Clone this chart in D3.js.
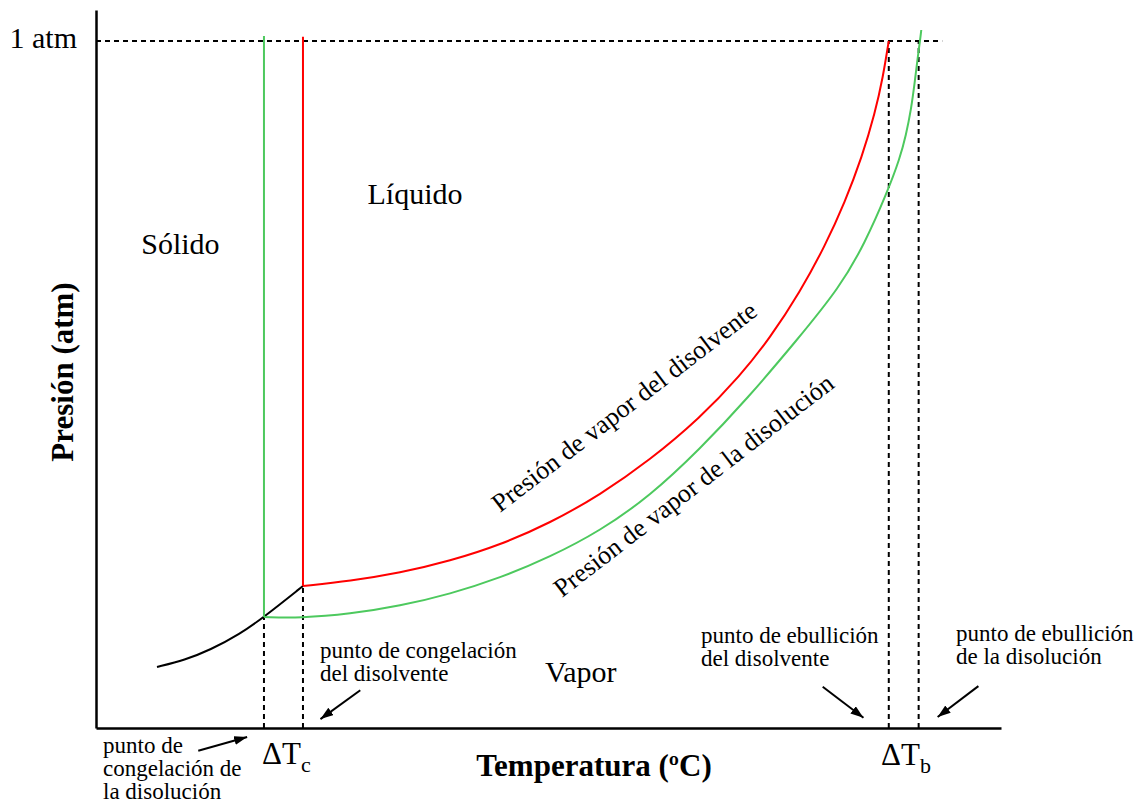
<!DOCTYPE html>
<html>
<head>
<meta charset="utf-8">
<script src="https://cdn.jsdelivr.net/npm/d3@7"></script>
<style>
  body { margin: 0; background: #fff; }
  svg { display: block; font-family: "Liberation Serif", "Times New Roman", serif; }
</style>
</head>
<body>
<script>
// curvas del diagrama de fases (temperatura relativa 0-100, presion en atm)
var sublimacion = [[6.74,0.0888],[9.83,0.0990],[12.60,0.1135],[15.91,0.1368],[18.56,0.1615],[22.87,0.2067]];
var vaporDisolvente = [[22.87,0.2067],[28.07,0.2139],[33.59,0.2256],[39.12,0.2431],[44.64,0.2663],[50.17,0.2984],
                       [55.69,0.3391],[61.22,0.3901],[66.74,0.4512],[71.16,0.5123],[74.48,0.5676],[77.79,0.6346],
                       [80.55,0.7015],[82.76,0.7656],[84.64,0.8311],[86.08,0.8951],[86.96,0.9475],[87.6,1.0]];
var vaporDisolucion = [[18.56,0.1616],[22.54,0.1601],[28.07,0.1659],[33.59,0.1776],[39.12,0.1950],[44.64,0.2183],
                       [50.17,0.2489],[55.69,0.2867],[61.22,0.3377],[66.74,0.4061],[71.93,0.4788],[77.46,0.5647],
                       [82.21,0.6418],[84.97,0.7059],[87.40,0.7787],[88.84,0.8296],[89.50,0.8631],[90.06,0.8994],
                       [90.50,0.9431],[90.83,0.9795],[91.05,1.0],[91.19,1.0159]];
var fusionDisolvente = [[22.87,0.2067],[22.87,1.006]];
var fusionDisolucion = [[18.56,0.1615],[18.56,1.007]];

// puntos de congelacion / ebullicion
var tCongDisolucion = 18.56, tCongDisolvente = 22.87;
var tEbDisolvente = 87.6, tEbDisolucion = 90.9;
var pCongDisolucion = 0.1615, pCongDisolvente = 0.2067;
var pAtm = 1;
var atmTicks = [1];
var atmLabel = "1 atm";

var width = 1140, height = 803;

var x = d3.scaleLinear().domain([0, 100]).range([96, 1001]);
var y = d3.scaleLinear().domain([0, 1.045]).range([728, 10]);

var svg = d3.select('body').append('svg').attr('width', width).attr('height', height);

var defs = svg.append('defs');
defs.append('marker')
    .attr('id', 'flecha')
    .attr('markerUnits', 'userSpaceOnUse')
    .attr('markerWidth', 14).attr('markerHeight', 10)
    .attr('refX', 13).attr('refY', 4.5)
    .attr('orient', 'auto')
  .append('path')
    .attr('d', 'M0,0 L13,4.5 L0,9 Z')
    .attr('fill', '#000');

var line = d3.line()
    .x(function(d){ return x(d[0]); })
    .y(function(d){ return y(d[1]); });
var curva = d3.line()
    .x(function(d){ return x(d[0]); })
    .y(function(d){ return y(d[1]); })
    .curve(d3.curveBasis);

// ejes
var ejeY = svg.append('g').attr('transform', 'translate(' + x(0) + ',0)')
    .call(d3.axisLeft(y).tickValues(atmTicks).tickSize(0).tickPadding(19).tickFormat(function(){ return atmLabel; }));
ejeY.select('.domain').attr('stroke', '#000').attr('stroke-width', 2.5);
ejeY.selectAll('text').attr('font-family', '"Liberation Serif", serif').attr('font-size', 30).attr('fill', '#000').attr('dy', '0.22em');

var ejeX = svg.append('g').attr('transform', 'translate(0,' + y(0) + ')')
    .call(d3.axisBottom(x).tickValues([]).tickSizeOuter(0));
ejeX.select('.domain').attr('stroke', '#000').attr('stroke-width', 2.5);

// lineas discontinuas
var discontinuas = [
    [[0, pAtm], [93.5, pAtm]],
    [[tCongDisolucion, 0], [tCongDisolucion, pCongDisolucion]],
    [[tCongDisolvente, 0], [tCongDisolvente, pCongDisolvente]],
    [[tEbDisolvente, 0], [tEbDisolvente, pAtm]],
    [[tEbDisolucion, 0], [tEbDisolucion, pAtm]]
];
svg.selectAll('path.dash')
    .data(discontinuas)
    .enter()
    .append('path')
    .attr('class', 'dash')
    .attr('d', line)
    .attr('fill', 'none')
    .attr('stroke', '#000')
    .attr('stroke-width', 2)
    .attr('stroke-dasharray', '5,4');

// curvas
svg.append('path').attr('d', curva(sublimacion)).attr('fill', 'none').attr('stroke', '#000').attr('stroke-width', 2);
svg.append('path').attr('d', line(fusionDisolucion)).attr('fill', 'none').attr('stroke', '#4dc95e').attr('stroke-width', 2);
svg.append('path').attr('d', curva(vaporDisolucion)).attr('fill', 'none').attr('stroke', '#4dc95e').attr('stroke-width', 2);
svg.append('path').attr('d', line(fusionDisolvente)).attr('fill', 'none').attr('stroke', '#ff0000').attr('stroke-width', 2);
svg.append('path').attr('d', curva(vaporDisolvente)).attr('fill', 'none').attr('stroke', '#ff0000').attr('stroke-width', 2);

// flechas
var flechas = [
    [[11.3, -0.033], [16.7, -0.013]],
    [[29.2, 0.055], [24.8, 0.013]],
    [[80.3, 0.060], [84.8, 0.015]],
    [[97.5, 0.061], [93.0, 0.016]]
];
svg.selectAll('path.flecha')
    .data(flechas)
    .enter()
    .append('path')
    .attr('class', 'flecha')
    .attr('d', line)
    .attr('stroke', '#000')
    .attr('stroke-width', 2)
    .attr('marker-end', 'url(#flecha)');

// regiones
var regiones = [["Sólido", 5.0, 0.69], ["Líquido", 30.0, 0.762], ["Vapor", 49.6, 0.067]];
svg.selectAll('text.region')
    .data(regiones)
    .enter()
    .append('text')
    .attr('class', 'region')
    .attr('x', function(d){ return x(d[1]); })
    .attr('y', function(d){ return y(d[2]); })
    .attr('font-size', 30)
    .text(function(d){ return d[0]; });

// etiquetas pequeñas
var notas = [
    [["punto de congelación", "del disolvente"], 320, 658],
    [["punto de ebullición", "del disolvente"], 701, 643],
    [["punto de ebullición", "de la disolución"], 956, 641],
    [["punto de", "congelación de", "la disolución"], 103, 753]
];
notas.forEach(function(n){
    var t = svg.append('text').attr('x', n[1]).attr('y', n[2]).attr('font-size', 23);
    n[0].forEach(function(s, i){
        t.append('tspan').attr('x', n[1]).attr('dy', i == 0 ? 0 : 23).text(s);
    });
});

// textos rotados de las curvas
svg.append('text')
    .attr('transform', 'translate(500,513) rotate(-37.5)')
    .attr('font-size', 26)
    .text('Presión de vapor del disolvente');
svg.append('text')
    .attr('transform', 'translate(562,598) rotate(-37.7)')
    .attr('font-size', 26)
    .text('Presión de vapor de la disolución');

// delta T
function deltaT(xpos, ypos, sub){
    var t = svg.append('text').attr('x', xpos).attr('y', ypos).attr('font-size', 31);
    t.append('tspan').text('ΔT');
    t.append('tspan').attr('dy', 8).attr('font-size', 22).text(sub);
}
deltaT(262, 764, 'c');
deltaT(881, 765, 'b');

// titulos de ejes
svg.append('text')
    .attr('x', 594).attr('y', 776)
    .attr('text-anchor', 'middle')
    .attr('font-weight', 'bold')
    .attr('font-size', 31)
    .text('Temperatura (ºC)');
svg.append('text')
    .attr('transform', 'translate(73,372) rotate(-90)')
    .attr('text-anchor', 'middle')
    .attr('font-weight', 'bold')
    .attr('font-size', 31)
    .text('Presión (atm)');
</script>
</body>
</html>
